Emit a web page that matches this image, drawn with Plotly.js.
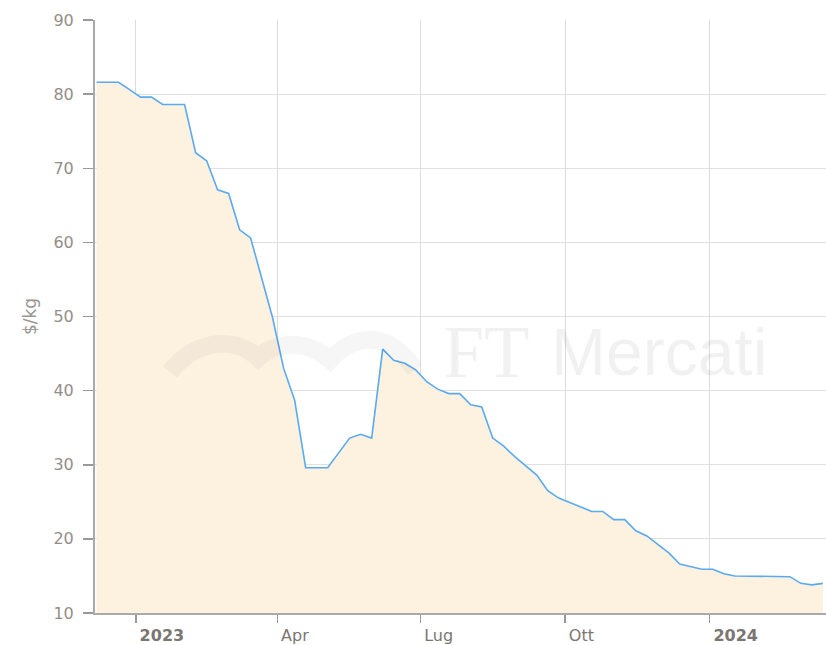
<!DOCTYPE html>
<html>
<head>
<meta charset="utf-8">
<script src="https://cdn.plot.ly/plotly-3.0.1.min.js"></script>
<style>html,body{margin:0;padding:0;background:#fff;}#chart{width:826px;height:645px;}</style>
</head>
<body>
<div id="chart"></div>
<script>
const dates = [
  '2022-12-07','2022-12-14','2022-12-21','2022-12-28',
  '2023-01-04','2023-01-11','2023-01-18','2023-01-25','2023-02-01','2023-02-08','2023-02-15','2023-02-22',
  '2023-03-01','2023-03-08','2023-03-15','2023-03-22','2023-03-29','2023-04-05','2023-04-12','2023-04-19',
  '2023-04-26','2023-05-03','2023-05-10','2023-05-17','2023-05-24','2023-05-31','2023-06-07','2023-06-14',
  '2023-06-21','2023-06-28','2023-07-05','2023-07-12','2023-07-19','2023-07-26','2023-08-02','2023-08-09',
  '2023-08-16','2023-08-23','2023-08-30','2023-09-06','2023-09-13','2023-09-20','2023-09-27','2023-10-04',
  '2023-10-11','2023-10-18','2023-10-25','2023-11-01','2023-11-08','2023-11-15','2023-11-22','2023-11-29',
  '2023-12-06','2023-12-13','2023-12-20','2023-12-27','2024-01-03','2024-01-10','2024-01-17','2024-01-24',
  '2024-01-31','2024-02-07','2024-02-14','2024-02-21','2024-02-28','2024-03-06','2024-03-13'
];
const prices = [
  81.6, 81.6, 81.6, 80.6,
  79.6, 79.6, 78.6, 78.6, 78.6, 72.1, 71.0, 67.1,
  66.6, 61.7, 60.6, 55.2, 49.8, 43.0, 38.7, 29.6,
  29.6, 29.6, 31.6, 33.6, 34.1, 33.6, 45.6, 44.1,
  43.7, 42.8, 41.2, 40.2, 39.6, 39.6, 38.1, 37.8,
  33.6, 32.5, 31.1, 29.8, 28.6, 26.5, 25.5, 24.9,
  24.3, 23.7, 23.7, 22.6, 22.6, 21.1, 20.4, 19.2,
  18.1, 16.6, 16.2, 15.9, 15.9, 15.3, 15.0, 15.0,
  14.9, 14.9, 14.9, 14.9, 14.0, 13.8, 14.0
];
const xTickVals = ['2023-01-01','2023-04-01','2023-07-01','2023-10-01','2024-01-01'];
const xTickText = ['<b>2023</b>','Apr','Lug','Ott','<b>2024</b>'];
const yTickVals = [10,20,30,40,50,60,70,80,90];
const yTitle = '$/kg';
const watermarkA = 'FT';
const watermarkB = 'Mercati';

const trace = {
  x: dates, y: prices, type: 'scatter', mode: 'lines',
  fill: 'tozeroy', fillcolor: '#fdf1e0',
  line: {color: '#5aaaf0', width: 1.6},
  hoverinfo: 'x+y'
};

function px(x){ return (x-95)/731; }
function py(y){ return (613-y)/593; }
const wave = 'M '+px(170)+','+py(372)+
  ' C '+px(195)+','+py(340)+' '+px(235)+','+py(335)+' '+px(258)+','+py(358)+
  ' C '+px(275)+','+py(342)+' '+px(305)+','+py(338)+' '+px(330)+','+py(360)+
  ' C '+px(350)+','+py(338)+' '+px(385)+','+py(325)+' '+px(415)+','+py(370);

const layout = {
  width: 826, height: 645,
  margin: {l: 95, r: 0, t: 20, b: 32},
  paper_bgcolor: '#ffffff', plot_bgcolor: '#ffffff',
  showlegend: false,
  font: {family: 'DejaVu Sans, Verdana, sans-serif', color: '#8a8580'},
  xaxis: {
    type: 'date', range: ['2022-12-06','2024-03-15'],
    tickmode: 'array', tickvals: xTickVals, ticktext: xTickText,
    ticks: 'outside', ticklen: 8, tickwidth: 1.5, tickcolor: '#999',
    ticklabelposition: 'outside right', ticklabelstandoff: 7, ticklabelshift: 2,
    tickfont: {size: 16, color: '#7a7672'},
    showgrid: true, gridcolor: '#dcdcdc', gridwidth: 1,
    showline: true, linecolor: '#aaaaaa', linewidth: 2,
    zeroline: false, fixedrange: true
  },
  yaxis: {
    range: [10, 90], tickmode: 'array', tickvals: yTickVals,
    ticks: 'outside', ticklen: 10, tickwidth: 1.5, tickcolor: '#999',
    ticklabelstandoff: 6,
    tickfont: {size: 16, color: '#948e88'},
    showgrid: true, gridcolor: '#e0e0e0', gridwidth: 1,
    showline: true, linecolor: '#aaaaaa', linewidth: 2,
    zeroline: false,
    title: {text: yTitle, font: {size: 17, color: '#9a9590'}, standoff: 12},
    fixedrange: true
  },
  shapes: [{
    type: 'path', xref: 'paper', yref: 'paper', path: wave,
    line: {color: 'rgba(0,0,0,0.035)', width: 18}, layer: 'above'
  }],
  annotations: [
    {xref: 'paper', yref: 'paper', x: px(441), y: py(352), xanchor: 'left', yanchor: 'middle',
     text: watermarkA, showarrow: false,
     font: {family: 'Liberation Serif, serif', size: 74, color: 'rgba(0,0,0,0.055)'}},
    {xref: 'paper', yref: 'paper', x: px(549), y: py(352), xanchor: 'left', yanchor: 'middle',
     text: watermarkB, showarrow: false,
     font: {family: 'Liberation Sans, Arial, sans-serif', size: 66, color: 'rgba(0,0,0,0.055)'}}
  ]
};

Plotly.newPlot('chart', [trace], layout, {displayModeBar: false, staticPlot: true});
</script>
</body>
</html>
